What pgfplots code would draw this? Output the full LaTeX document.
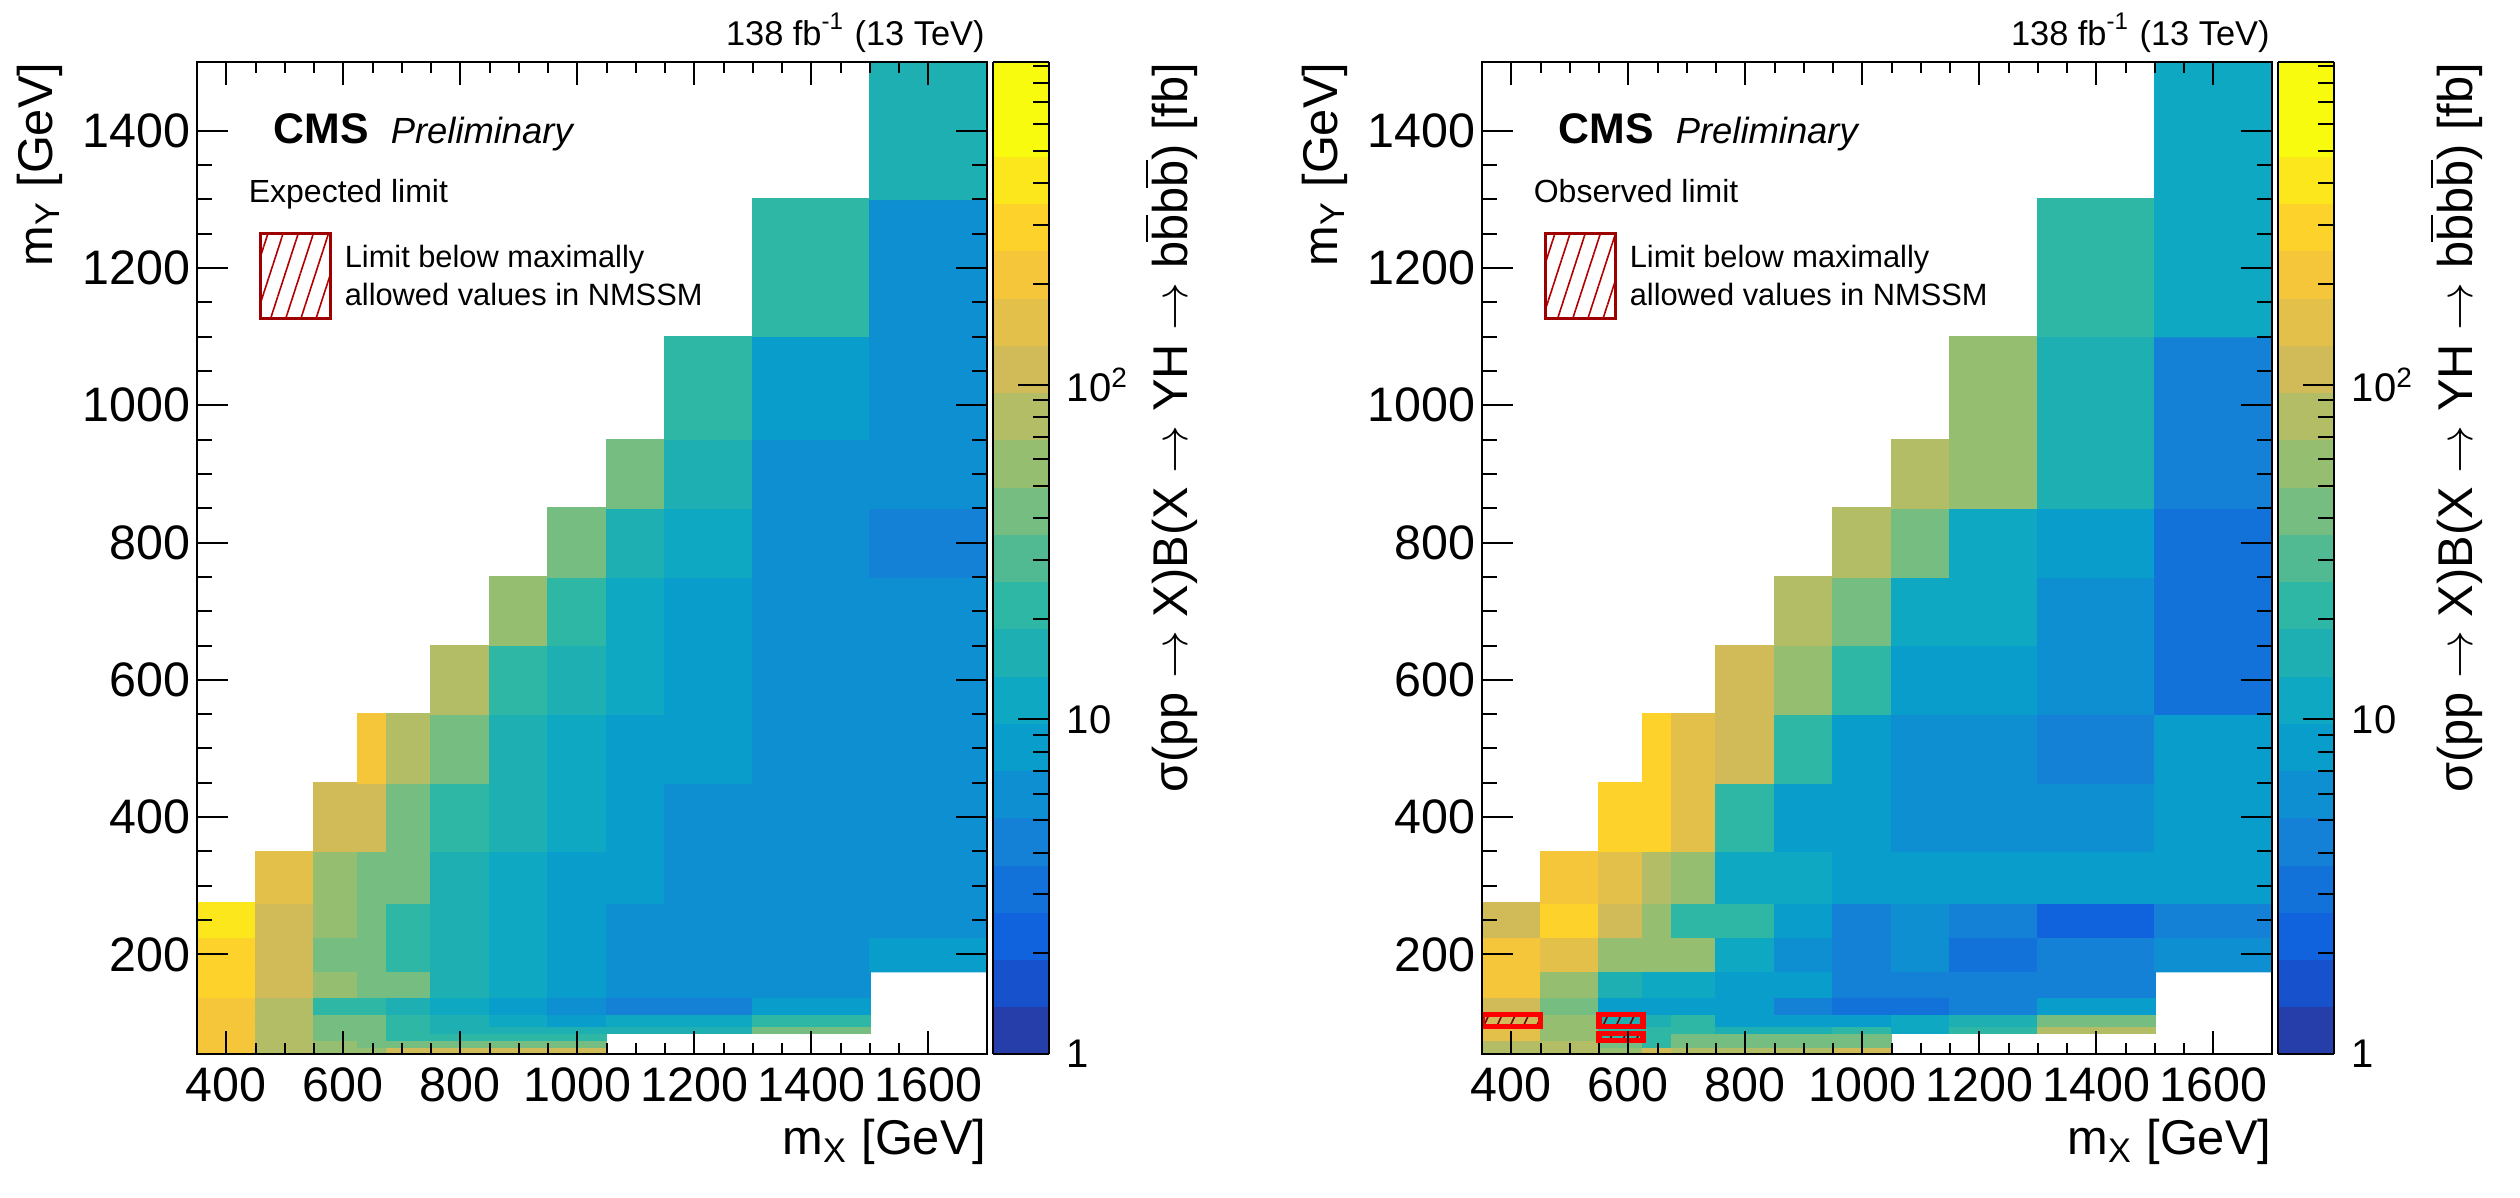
\documentclass[border=0pt]{standalone}
\usepackage{fontspec}
\setmainfont{Liberation Sans}
\usepackage{pgfplots}
\pgfplotsset{compat=1.18}
\usepackage{pgfplotstable}
\usetikzlibrary{patterns.meta}

% expected limits (fb); x = m_X, y = m_Y
\pgfplotstableread[row sep=\\]{
x y lim\\
400 60 199\\ 500 60 71.3\\ 600 60 50.7\\ 650 60 50.7\\ 700 60 100\\ 800 60 100\\ 900 60 100\\ 1000 60 100\\ 1100 60 nan\\ 1200 60 nan\\ 1400 60 nan\\ 1600 60 nan\\
400 70 199\\ 500 70 71.3\\ 600 70 50.7\\ 650 70 36\\ 700 70 36\\ 800 70 36\\ 900 70 36\\ 1000 70 36\\ 1100 70 nan\\ 1200 70 nan\\ 1400 70 nan\\ 1600 70 nan\\
400 80 199\\ 500 80 71.3\\ 600 80 36\\ 650 80 36\\ 700 80 25.6\\ 800 80 25.6\\ 900 80 25.6\\ 1000 80 25.6\\ 1100 80 nan\\ 1200 80 nan\\ 1400 80 nan\\ 1600 80 nan\\
400 90 199\\ 500 90 71.3\\ 600 90 36\\ 650 90 36\\ 700 90 25.6\\ 800 90 18.2\\ 900 90 18.2\\ 1000 90 18.2\\ 1100 90 18.2\\ 1200 90 18.2\\ 1400 90 36\\ 1600 90 nan\\
400 100 199\\ 500 100 71.3\\ 600 100 36\\ 650 100 36\\ 700 100 25.6\\ 800 100 18.2\\ 900 100 12.9\\ 1000 100 9.19\\ 1100 100 12.9\\ 1200 100 12.9\\ 1400 100 25.6\\ 1600 100 nan\\
400 125 199\\ 500 125 71.3\\ 600 125 25.6\\ 650 125 25.6\\ 700 125 18.2\\ 800 125 12.9\\ 900 125 9.19\\ 1000 125 6.54\\ 1100 125 4.65\\ 1200 125 4.65\\ 1400 125 9.19\\ 1600 125 nan\\
400 150 280\\ 500 150 100\\ 600 150 50.7\\ 650 150 36\\ 700 150 36\\ 800 150 18.2\\ 900 150 12.9\\ 1000 150 9.19\\ 1100 150 6.54\\ 1200 150 6.54\\ 1400 150 6.54\\ 1600 150 nan\\
400 200 280\\ 500 200 100\\ 600 200 36\\ 650 200 36\\ 700 200 25.6\\ 800 200 18.2\\ 900 200 12.9\\ 1000 200 9.19\\ 1100 200 6.54\\ 1200 200 6.54\\ 1400 200 6.54\\ 1600 200 9.19\\
400 250 393\\ 500 250 100\\ 600 250 50.7\\ 650 250 36\\ 700 250 25.6\\ 800 250 18.2\\ 900 250 12.9\\ 1000 250 9.19\\ 1100 250 6.54\\ 1200 250 6.54\\ 1400 250 6.54\\ 1600 250 6.54\\
400 300 nan\\ 500 300 141\\ 600 300 50.7\\ 650 300 36\\ 700 300 36\\ 800 300 18.2\\ 900 300 12.9\\ 1000 300 9.19\\ 1100 300 9.19\\ 1200 300 6.54\\ 1400 300 6.54\\ 1600 300 6.54\\
400 400 nan\\ 500 400 nan\\ 600 400 100\\ 650 400 100\\ 700 400 36\\ 800 400 25.6\\ 900 400 18.2\\ 1000 400 12.9\\ 1100 400 9.19\\ 1200 400 6.54\\ 1400 400 6.54\\ 1600 400 6.54\\
400 500 nan\\ 500 500 nan\\ 600 500 nan\\ 650 500 199\\ 700 500 71.3\\ 800 500 36\\ 900 500 18.2\\ 1000 500 12.9\\ 1100 500 9.19\\ 1200 500 9.19\\ 1400 500 6.54\\ 1600 500 6.54\\
400 600 nan\\ 500 600 nan\\ 600 600 nan\\ 650 600 nan\\ 700 600 nan\\ 800 600 71.3\\ 900 600 25.6\\ 1000 600 18.2\\ 1100 600 12.9\\ 1200 600 9.19\\ 1400 600 6.54\\ 1600 600 6.54\\
400 700 nan\\ 500 700 nan\\ 600 700 nan\\ 650 700 nan\\ 700 700 nan\\ 800 700 nan\\ 900 700 50.7\\ 1000 700 25.6\\ 1100 700 12.9\\ 1200 700 9.19\\ 1400 700 6.54\\ 1600 700 6.54\\
400 800 nan\\ 500 800 nan\\ 600 800 nan\\ 650 800 nan\\ 700 800 nan\\ 800 800 nan\\ 900 800 nan\\ 1000 800 36\\ 1100 800 18.2\\ 1200 800 12.9\\ 1400 800 6.54\\ 1600 800 4.65\\
400 900 nan\\ 500 900 nan\\ 600 900 nan\\ 650 900 nan\\ 700 900 nan\\ 800 900 nan\\ 900 900 nan\\ 1000 900 nan\\ 1100 900 36\\ 1200 900 18.2\\ 1400 900 6.54\\ 1600 900 6.54\\
400 1000 nan\\ 500 1000 nan\\ 600 1000 nan\\ 650 1000 nan\\ 700 1000 nan\\ 800 1000 nan\\ 900 1000 nan\\ 1000 1000 nan\\ 1100 1000 nan\\ 1200 1000 25.6\\ 1400 1000 9.19\\ 1600 1000 6.54\\
400 1200 nan\\ 500 1200 nan\\ 600 1200 nan\\ 650 1200 nan\\ 700 1200 nan\\ 800 1200 nan\\ 900 1200 nan\\ 1000 1200 nan\\ 1100 1200 nan\\ 1200 1200 nan\\ 1400 1200 25.6\\ 1600 1200 6.54\\
400 1400 nan\\ 500 1400 nan\\ 600 1400 nan\\ 650 1400 nan\\ 700 1400 nan\\ 800 1400 nan\\ 900 1400 nan\\ 1000 1400 nan\\ 1100 1400 nan\\ 1200 1400 nan\\ 1400 1400 nan\\ 1600 1400 18.2\\
}\expdata

% observed limits (fb)
\pgfplotstableread[row sep=\\]{
x y lim\\
400 60 71.3\\ 500 60 71.3\\ 600 60 50.7\\ 650 60 100\\ 700 60 71.3\\ 800 60 71.3\\ 900 60 71.3\\ 1000 60 100\\ 1100 60 nan\\ 1200 60 nan\\ 1400 60 nan\\ 1600 60 nan\\
400 70 71.3\\ 500 70 71.3\\ 600 70 36\\ 650 70 25.6\\ 700 70 36\\ 800 70 36\\ 900 70 36\\ 1000 70 36\\ 1100 70 nan\\ 1200 70 nan\\ 1400 70 nan\\ 1600 70 nan\\
400 80 141\\ 500 80 50.7\\ 600 80 25.6\\ 650 80 25.6\\ 700 80 36\\ 800 80 36\\ 900 80 36\\ 1000 80 36\\ 1100 80 nan\\ 1200 80 nan\\ 1400 80 nan\\ 1600 80 nan\\
400 90 141\\ 500 90 50.7\\ 600 90 25.6\\ 650 90 25.6\\ 700 90 25.6\\ 800 90 18.2\\ 900 90 18.2\\ 1000 90 25.6\\ 1100 90 12.9\\ 1200 90 25.6\\ 1400 90 71.3\\ 1600 90 nan\\
400 100 100\\ 500 100 50.7\\ 600 100 18.2\\ 650 100 18.2\\ 700 100 25.6\\ 800 100 9.19\\ 900 100 9.19\\ 1000 100 9.19\\ 1100 100 12.9\\ 1200 100 18.2\\ 1400 100 36\\ 1600 100 nan\\
400 125 100\\ 500 125 36\\ 600 125 9.19\\ 650 125 9.19\\ 700 125 9.19\\ 800 125 9.19\\ 900 125 4.65\\ 1000 125 3.3\\ 1100 125 3.3\\ 1200 125 4.65\\ 1400 125 9.19\\ 1600 125 nan\\
400 150 199\\ 500 150 50.7\\ 600 150 18.2\\ 650 150 12.9\\ 700 150 12.9\\ 800 150 9.19\\ 900 150 9.19\\ 1000 150 4.65\\ 1100 150 4.65\\ 1200 150 4.65\\ 1400 150 4.65\\ 1600 150 nan\\
400 200 199\\ 500 200 141\\ 600 200 50.7\\ 650 200 50.7\\ 700 200 50.7\\ 800 200 12.9\\ 900 200 6.54\\ 1000 200 4.65\\ 1100 200 6.54\\ 1200 200 3.3\\ 1400 200 4.65\\ 1600 200 6.54\\
400 250 100\\ 500 250 280\\ 600 250 100\\ 650 250 50.7\\ 700 250 25.6\\ 800 250 25.6\\ 900 250 9.19\\ 1000 250 4.65\\ 1100 250 6.54\\ 1200 250 4.65\\ 1400 250 2.35\\ 1600 250 4.65\\
400 300 nan\\ 500 300 199\\ 600 300 141\\ 650 300 71.3\\ 700 300 50.7\\ 800 300 12.9\\ 900 300 12.9\\ 1000 300 9.19\\ 1100 300 9.19\\ 1200 300 9.19\\ 1400 300 9.19\\ 1600 300 9.19\\
400 400 nan\\ 500 400 nan\\ 600 400 280\\ 650 400 280\\ 700 400 141\\ 800 400 25.6\\ 900 400 9.19\\ 1000 400 9.19\\ 1100 400 6.54\\ 1200 400 6.54\\ 1400 400 6.54\\ 1600 400 9.19\\
400 500 nan\\ 500 500 nan\\ 600 500 nan\\ 650 500 280\\ 700 500 141\\ 800 500 100\\ 900 500 25.6\\ 1000 500 9.19\\ 1100 500 6.54\\ 1200 500 6.54\\ 1400 500 4.65\\ 1600 500 9.19\\
400 600 nan\\ 500 600 nan\\ 600 600 nan\\ 650 600 nan\\ 700 600 nan\\ 800 600 100\\ 900 600 50.7\\ 1000 600 25.6\\ 1100 600 9.19\\ 1200 600 9.19\\ 1400 600 6.54\\ 1600 600 3.3\\
400 700 nan\\ 500 700 nan\\ 600 700 nan\\ 650 700 nan\\ 700 700 nan\\ 800 700 nan\\ 900 700 71.3\\ 1000 700 36\\ 1100 700 12.9\\ 1200 700 12.9\\ 1400 700 6.54\\ 1600 700 3.3\\
400 800 nan\\ 500 800 nan\\ 600 800 nan\\ 650 800 nan\\ 700 800 nan\\ 800 800 nan\\ 900 800 nan\\ 1000 800 71.3\\ 1100 800 36\\ 1200 800 12.9\\ 1400 800 9.19\\ 1600 800 3.3\\
400 900 nan\\ 500 900 nan\\ 600 900 nan\\ 650 900 nan\\ 700 900 nan\\ 800 900 nan\\ 900 900 nan\\ 1000 900 nan\\ 1100 900 71.3\\ 1200 900 50.7\\ 1400 900 18.2\\ 1600 900 4.65\\
400 1000 nan\\ 500 1000 nan\\ 600 1000 nan\\ 650 1000 nan\\ 700 1000 nan\\ 800 1000 nan\\ 900 1000 nan\\ 1000 1000 nan\\ 1100 1000 nan\\ 1200 1000 50.7\\ 1400 1000 18.2\\ 1600 1000 4.65\\
400 1200 nan\\ 500 1200 nan\\ 600 1200 nan\\ 650 1200 nan\\ 700 1200 nan\\ 800 1200 nan\\ 900 1200 nan\\ 1000 1200 nan\\ 1100 1200 nan\\ 1200 1200 nan\\ 1400 1200 25.6\\ 1600 1200 12.9\\
400 1400 nan\\ 500 1400 nan\\ 600 1400 nan\\ 650 1400 nan\\ 700 1400 nan\\ 800 1400 nan\\ 900 1400 nan\\ 1000 1400 nan\\ 1100 1400 nan\\ 1200 1400 nan\\ 1400 1400 nan\\ 1600 1400 12.9\\
}\obsdata

\pgfplotsset{
  colormap={bird}{
    rgb=(0.1486,0.2438,0.6649) rgb=(0.0890,0.3212,0.8006) rgb=(0.0630,0.3887,0.8624)
    rgb=(0.0705,0.4464,0.8505) rgb=(0.0780,0.5041,0.8385) rgb=(0.0561,0.5592,0.8197)
    rgb=(0.0342,0.6143,0.8008) rgb=(0.0546,0.6571,0.7616) rgb=(0.1174,0.6874,0.7021)
    rgb=(0.1802,0.7178,0.6425) rgb=(0.3202,0.7304,0.5720) rgb=(0.4601,0.7429,0.5015)
    rgb=(0.5878,0.7459,0.4429) rgb=(0.7032,0.7394,0.3964) rgb=(0.8186,0.7328,0.3499)
    rgb=(0.8894,0.7542,0.2887) rgb=(0.9602,0.7755,0.2274) rgb=(0.9918,0.8256,0.1682)
    rgb=(0.9841,0.9044,0.1111) rgb=(0.9764,0.9832,0.0539) rgb=(0.9764,0.9832,0.0539)
  },
  cmsmap/.style={
    scale only axis, width=197.5pt, height=248pt,
    xmin=350, xmax=1700, ymin=55, ymax=1500,
    enlargelimits=false, axis on top, clip mode=individual,
    xtick={400,600,...,1600}, ytick={200,400,...,1400},
    minor x tick num=3, minor y tick num=3,
    tick align=inside, tick pos=both,
    tick style={black, line width=0.5pt},
    xtick style={/pgfplots/major tick length=5.75pt,/pgfplots/minor tick length=2.75pt},
    ytick style={/pgfplots/major tick length=7.75pt,/pgfplots/minor tick length=3.75pt},
    axis line style={line width=0.6pt},
    /pgf/number format/assume math mode=true,
    /pgf/number format/1000 sep={},
    ticklabel style={font=\fontsize{12.1}{14}\selectfont, inner sep=0pt},
    xticklabel style={yshift=-3.25pt},
    yticklabel style={xshift=-1.5pt},
    colormap name=bird, colormap access=piecewise constant,
    point meta min=0, point meta max=2.965,
    unbounded coords=jump,
    colorbar,
    colorbar shift/.style={xshift=1.5pt},
    colorbar style={
      at={(parent axis.south east)}, anchor=south west,
      width=14pt,
      ytick={0,1,2}, yticklabels={1,10,10\textsuperscript{2}},
      minor ytick={0.30103,0.47712,0.60206,0.69897,0.77815,0.84510,0.90309,0.95424,
                   1.30103,1.47712,1.60206,1.69897,1.77815,1.84510,1.90309,1.95424,
                   2.30103,2.47712,2.60206,2.69897,2.77815,2.84510,2.90309,2.95424},
      ytick pos=right, yticklabel pos=right,
      tick align=inside,
      major tick length=7.75pt, minor tick length=4pt,
      tick style={black, line width=0.5pt},
      axis line style={line width=0.6pt},
      yticklabel style={font=\fontsize{10}{12}\selectfont, inner sep=0pt, xshift=4.25pt},
    },
  },
}
\tikzset{cmstext/.style={inner sep=0pt}}

\newcommand{\cmsdecor}[1]{%
  \node[cmstext, anchor=base west, font=\fontsize{10.7}{12}\selectfont\bfseries] at (rel axis cs:0.0962,0.9183) {CMS};
  \node[cmstext, anchor=base west, font=\fontsize{9.1}{11}\selectfont\itshape] at (rel axis cs:0.2443,0.9183) {Preliminary};
  \node[cmstext, anchor=base west, font=\fontsize{8}{10}\selectfont] at (rel axis cs:0.0646,0.8579) {#1};
  \draw[draw=red!62!black, line width=0.75pt, pattern={Lines[angle=72,distance=3.6pt,line width=0.4pt]}, pattern color=red!70!black]
     (rel axis cs:0.0810,0.7419) rectangle (rel axis cs:0.1684,0.8276);
  \node[cmstext, anchor=base west, font=\fontsize{7.7}{9}\selectfont] at (rel axis cs:0.1861,0.7933) {Limit below maximally};
  \node[cmstext, anchor=base west, font=\fontsize{7.7}{9}\selectfont] at (rel axis cs:0.1861,0.7550) {allowed values in NMSSM};
  \node[cmstext, anchor=base east, font=\fontsize{8.6}{10}\selectfont] at (rel axis cs:0.998,1.0171) {138 fb\textsuperscript{-1} (13 TeV)};
  \node[cmstext, anchor=base east, rotate=90, font=\fontsize{12.2}{14}\selectfont] at (rel axis cs:-0.1835,1) {m\textsubscript{Y} [GeV]};
  \node[cmstext, anchor=base east, font=\fontsize{12.2}{14}\selectfont] at (rel axis cs:1,-0.1018) {m\textsubscript{X} [GeV]};
  \node[cmstext, anchor=base east, rotate=90, font=\fontsize{12.2}{14}\selectfont] at (rel axis cs:1.2544,1)
     {σ(pp \(\rightarrow\) X)B(X \(\rightarrow\) YH \(\rightarrow\) b\(\overline{\mbox{b}}\)b\(\overline{\mbox{b}}\)) [fb]};
}

\begin{document}
\begin{tikzpicture}
\useasboundingbox (0,0) rectangle (630pt,299.5pt);

\begin{axis}[cmsmap, at={(49.25pt,36pt)}, anchor=south west]
  \addplot[matrix plot*, mesh/cols=12, point meta={log10(\thisrow{lim})}] table[x=x, y=y] {\expdata};
  \cmsdecor{Expected limit}
\end{axis}

\begin{axis}[cmsmap, at={(370.5pt,36pt)}, anchor=south west]
  \addplot[matrix plot*, mesh/cols=12, point meta={log10(\thisrow{lim})}] table[x=x, y=y] {\obsdata};
  \addplot[draw=red, line width=1.3pt, pattern={Lines[angle=65,distance=3pt,line width=0.4pt]}, pattern color=red!45!black]
     coordinates {(350,95) (450,95) (450,112.5) (350,112.5)} -- cycle;
  \addplot[draw=red, line width=1.3pt, pattern={Lines[angle=65,distance=3pt,line width=0.4pt]}, pattern color=red!45!black]
     coordinates {(550,95) (625,95) (625,112.5) (550,112.5)} -- cycle;
  \addplot[draw=red, line width=1.3pt, pattern={Lines[angle=65,distance=3pt,line width=0.4pt]}, pattern color=red!45!black]
     coordinates {(550,75) (625,75) (625,85) (550,85)} -- cycle;
  \cmsdecor{Observed limit}
\end{axis}
\end{tikzpicture}
\end{document}
